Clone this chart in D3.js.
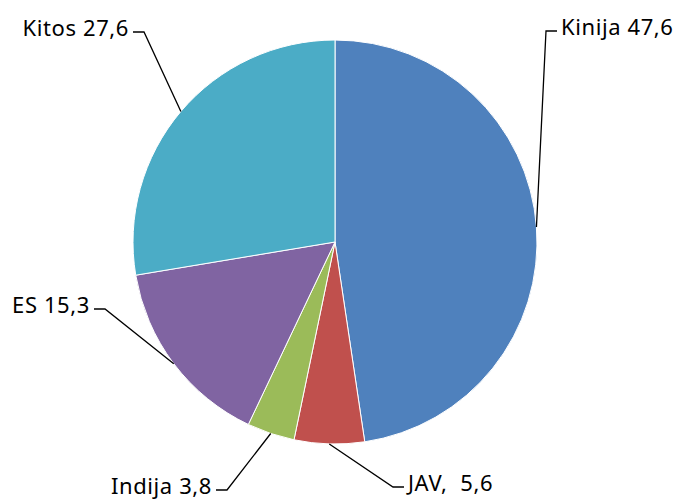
<!DOCTYPE html>
<html>
<head>
<meta charset="utf-8">
<script src="https://cdn.jsdelivr.net/npm/d3@7"></script>
<style>
    body { margin: 0; background: #fff; }
    text { font-family: "Noto Sans", "Open Sans", sans-serif; white-space: pre; }
</style>
</head>
<body>
<div id="chart"></div>
<script>
// share of world production, %
const countries = ["Kinija", "JAV,", "Indija", "ES", "Kitos"];
const shares = [47.6, 5.6, 3.8, 15.3, 27.6];
const labels = ["Kinija 47,6", "JAV,  5,6", "Indija 3,8", "ES 15,3", "Kitos 27,6"];
const colors = ["#4f81bd", "#c0504d", "#9bbb59", "#8064a2", "#4bacc6"];

let width = 680, height = 499;
let cx = 335, cy = 242, radius = 202;

// where each leader line bends and which side its text sits
let elbows = [
    { x: 546, y: 31, dir: 1 },
    { x: 393, y: 487, dir: 1 },
    { x: 227, y: 490, dir: -1 },
    { x: 105, y: 309, dir: -1 },
    { x: 144, y: 32, dir: -1 }
];

const svg = d3.select("#chart")
    .append("svg")
    .attr("width", width)
    .attr("height", height);

const g = svg.append("g")
    .attr("transform", `translate(${cx},${cy})`);

const pie = d3.pie()
    .sort(null)
    .value(d => d);

const arc = d3.arc()
    .innerRadius(0)
    .outerRadius(radius);

const arcs = pie(shares);

g.selectAll("path")
    .data(arcs)
    .enter()
    .append("path")
    .attr("d", arc)
    .attr("fill", (d, i) => colors[i])
    .attr("stroke", "#fff")
    .attr("stroke-width", 1);

// leader lines from the slice edge
arcs.forEach(function (d, i) {
    const mid = (d.startAngle + d.endAngle) / 2;
    const ax = cx + radius * Math.sin(mid);
    const ay = cy - radius * Math.cos(mid);
    const e = elbows[i];
    const endX = e.x + e.dir * 11;

    svg.append("polyline")
        .attr("points", `${ax},${ay} ${e.x},${e.y} ${endX},${e.y}`)
        .attr("fill", "none")
        .attr("stroke", "#000")
        .attr("stroke-width", 1.3);

    svg.append("text")
        .attr("x", endX + e.dir * 4)
        .attr("y", e.y + 4)
        .attr("text-anchor", e.dir > 0 ? "start" : "end")
        .style("font-size", "22px")
        .style("letter-spacing", "0.6px")
        .style("fill", "#000")
        .text(labels[i]);
});
</script>
</body>
</html>
